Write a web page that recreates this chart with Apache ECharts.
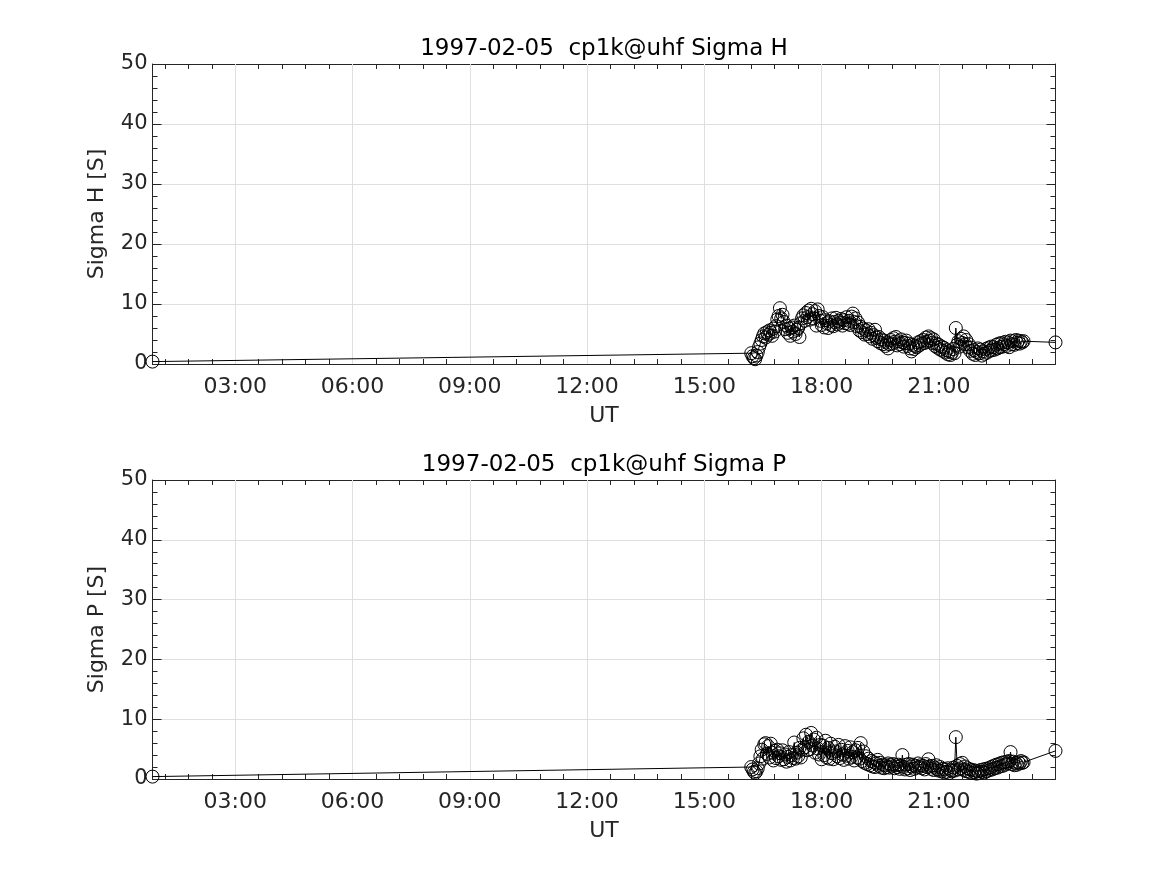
<!DOCTYPE html>
<html>
<head>
<meta charset="utf-8">
<script src="https://cdn.jsdelivr.net/npm/echarts@6/dist/echarts.min.js"></script>
<style>html,body{margin:0;padding:0;background:#fff;}#c{width:1167px;height:875px;}</style>
</head>
<body>
<div id="c"></div>
<script>
// ---- data ----
const titleH = '1997-02-05  cp1k@uhf Sigma H';
const titleP = '1997-02-05  cp1k@uhf Sigma P';
const yNameH = 'Sigma H [S]';
const yNameP = 'Sigma P [S]';
const xName = 'UT';

const times = [
'00:53',
'16:12','16:14','16:16','16:18','16:20','16:22','16:24','16:26','16:28','16:30','16:32','16:34',
'16:36','16:38','16:40','16:42','16:44','16:46','16:48','16:50','16:52','16:54','16:56','16:58',
'17:00','17:02','17:04','17:06','17:08','17:10','17:12','17:14','17:16','17:18','17:20','17:22','17:24','17:26','17:28',
'17:30','17:32','17:34','17:36','17:38','17:40','17:42','17:44','17:46','17:48','17:50','17:52','17:54','17:56','17:58',
'18:00','18:02','18:04','18:06','18:08','18:10','18:12','18:14','18:16','18:18','18:20','18:22','18:24','18:26','18:28',
'18:30','18:32','18:34','18:36','18:38','18:40','18:42','18:44','18:46','18:48','18:50','18:52','18:54','18:56','18:58',
'19:00','19:02','19:04','19:06','19:08','19:10','19:12','19:14','19:16','19:18','19:20','19:22','19:24','19:26','19:28',
'19:30','19:32','19:34','19:36','19:38','19:40','19:42','19:44','19:46','19:48','19:50','19:52','19:54','19:56','19:58',
'20:00','20:02','20:04','20:06','20:08','20:10','20:12','20:14','20:16','20:18','20:20','20:22','20:24','20:26','20:28',
'20:30','20:32','20:34','20:36','20:38','20:40','20:42','20:44','20:46','20:48','20:50','20:52','20:54','20:56','20:58',
'21:00','21:02','21:04','21:06','21:08','21:10','21:12','21:14','21:16','21:18','21:20','21:22','21:24','21:26','21:28',
'21:30','21:32','21:34','21:36','21:38','21:40','21:42','21:44','21:46','21:48','21:50','21:52','21:54','21:56','21:58',
'22:00','22:02','22:04','22:06','22:08','22:10','22:12','22:14','22:16','22:18','22:20','22:22','22:24','22:26','22:28',
'22:30','22:32','22:34','22:36','22:38','22:40','22:42','22:44','22:46','22:48','22:50','22:52','22:54','22:56','22:58',
'23:00','23:02','23:04','23:06','23:08','23:10',
'23:59'
];

const sigmaH = [
0.4,
1.8,1.3,1.0,0.8,1.4,2.0,2.8,3.4,4.0,4.6,5.1,4.4,
5.3,4.9,5.6,5.2,4.7,5.9,5.4,6.3,7.4,8.0,9.3,7.6,
8.2,7.0,5.8,6.4,5.2,5.9,4.7,6.1,5.4,6.4,5.0,5.7,6.0,4.5,6.8,
7.6,8.1,7.2,8.5,7.8,8.9,7.4,9.2,8.3,7.6,8.8,6.4,9.1,8.0,7.2,
6.5,7.8,6.1,7.3,6.8,6.0,7.1,6.5,7.6,6.3,7.0,7.7,6.6,7.2,6.9,
7.5,6.4,7.3,6.8,7.8,6.7,7.2,6.5,7.9,8.4,7.0,7.6,6.3,6.9,5.6,
6.2,5.3,5.9,4.9,5.6,5.0,5.8,4.6,5.2,4.2,4.8,5.7,4.4,3.8,4.5,
3.5,4.1,3.3,3.9,3.0,3.6,2.6,3.3,4.0,3.4,4.3,3.7,4.5,3.1,3.8,
3.3,4.1,3.6,2.9,3.5,3.9,3.0,3.4,2.6,2.1,3.2,2.5,3.0,2.8,3.6,
3.1,3.8,3.4,4.0,3.5,4.4,3.7,4.6,3.9,4.3,3.5,4.1,3.0,3.4,2.7,
3.2,2.4,2.9,2.2,2.7,1.9,2.3,1.6,2.1,1.5,1.9,2.5,1.8,6.0,3.2,
3.8,2.9,4.2,3.5,4.6,3.3,4.0,2.8,3.3,2.2,2.7,1.7,2.3,1.5,2.0,
2.6,1.8,2.4,1.4,2.1,1.7,2.5,1.9,2.7,2.2,2.9,2.3,2.8,2.4,3.2,
2.6,3.4,2.8,3.5,2.9,3.3,3.7,3.0,3.6,2.8,3.9,3.3,3.8,3.2,4.0,
3.5,3.9,3.4,3.8,3.6,3.8,
3.6
];

const sigmaP = [
0.4,
2.0,1.6,1.2,1.0,1.3,1.8,2.6,3.8,4.9,3.4,5.8,6.0,
4.2,5.5,3.6,5.9,4.4,3.1,4.7,3.5,4.9,3.8,4.3,3.2,
4.8,3.3,4.1,2.9,3.7,4.5,3.1,4.0,3.5,6.1,3.4,4.4,3.8,5.2,3.6,
4.9,6.8,5.3,7.4,4.8,6.2,5.0,7.7,5.6,6.6,4.4,6.9,5.1,4.1,5.7,
3.3,5.6,4.0,6.4,3.6,5.2,3.4,5.9,4.3,3.3,5.4,4.6,3.8,5.7,3.5,
4.9,4.1,3.2,5.5,3.9,4.7,3.4,5.3,3.7,4.5,3.1,4.8,3.6,5.2,3.4,
6.0,3.0,4.6,2.7,3.8,2.5,3.4,2.3,3.0,2.1,2.8,2.0,2.6,3.2,2.2,
2.7,1.9,2.4,1.8,2.3,2.0,2.6,1.9,2.4,2.1,2.5,1.8,2.3,2.0,2.4,
1.7,2.2,4.0,2.0,1.6,2.4,1.8,2.5,1.5,2.1,2.4,1.7,2.2,1.9,2.6,
2.0,2.3,1.8,2.2,1.6,2.5,2.0,3.3,2.1,1.7,2.2,1.5,1.9,2.3,1.6,
1.4,2.0,1.3,1.7,1.1,1.6,1.2,1.8,1.0,1.5,1.3,1.9,1.4,7.0,2.2,
1.6,2.5,1.8,2.7,1.5,2.1,1.3,1.8,1.2,1.6,1.0,1.5,1.1,1.4,0.9,
1.3,1.0,1.5,1.2,1.6,1.1,1.7,1.3,1.8,1.5,2.0,1.6,2.2,1.8,2.4,
1.9,2.5,2.1,2.7,2.2,2.8,2.4,2.9,2.6,3.0,4.5,2.5,2.9,2.3,2.7,
2.4,2.8,2.6,3.0,2.7,2.8,
4.7
];

const xMajorTicks = [3, 6, 9, 12, 15, 18, 21];
const xMinorTicks = [1.2,1.8,2.4,3.6,4.2,4.8,5.4,6.6,7.2,7.8,8.4,9.6,10.2,10.8,11.4,
  12.6,13.2,13.8,14.4,15.6,16.2,16.8,17.4,18.6,19.2,19.8,20.4,21.6,22.2,22.8,23.4];
const yMin = 0, yMax = 50, yStep = 10;

// ---- build ----
const FONT = 'DejaVu Sans';
const AX = '#262626';
const GRIDC = '#dfdfdf';
const hours = times.map(t => { const p = t.split(':'); return +p[0] + (+p[1]) / 60; });
const tMin = hours[0], tMax = hours[hours.length - 1];
const fmt = v => String(Math.round(v)).padStart(2, '0') + ':00';

const grids = [
  { left: 152.5, right: 111.5, top: 64, height: 300 },
  { left: 152.5, right: 111.5, top: 480, height: 299 }
];

function xAxesFor(g) {
  const base = { gridIndex: g, type: 'value', min: tMin, max: tMax, splitLine: { show: false } };
  return [
    Object.assign({}, base, {
      position: 'bottom',
      axisLine: { show: true, onZero: false, lineStyle: { color: AX, width: 1 } },
      axisTick: { show: true, inside: true, length: 9, customValues: xMajorTicks, lineStyle: { color: AX } },
      axisLabel: { show: true, customValues: xMajorTicks, formatter: fmt, fontSize: 22, color: AX, margin: 12, fontFamily: FONT },
      name: xName, nameLocation: 'middle', nameGap: 41,
      nameTextStyle: { fontSize: 22, color: AX, fontFamily: FONT }
    }),
    Object.assign({}, base, {
      position: 'bottom',
      axisLine: { show: false, onZero: false },
      axisTick: { show: true, inside: true, length: 5, customValues: xMinorTicks, lineStyle: { color: AX } },
      axisLabel: { show: false }
    }),
    Object.assign({}, base, {
      position: 'top',
      axisLine: { show: true, onZero: false, lineStyle: { color: AX, width: 1 } },
      axisTick: { show: true, inside: true, length: 9, customValues: xMajorTicks, lineStyle: { color: AX } },
      axisLabel: { show: false }
    }),
    Object.assign({}, base, {
      position: 'top',
      axisLine: { show: false, onZero: false },
      axisTick: { show: true, inside: true, length: 5, customValues: xMinorTicks, lineStyle: { color: AX } },
      axisLabel: { show: false }
    })
  ];
}

function yAxesFor(g, name) {
  const base = { gridIndex: g, type: 'value', min: yMin, max: yMax, interval: yStep };
  return [
    Object.assign({}, base, {
      position: 'left',
      axisLine: { show: true, onZero: false, lineStyle: { color: AX, width: 1 } },
      axisTick: { show: true, inside: true, length: 9, lineStyle: { color: AX } },
      minorTick: { show: true, splitNumber: 5, length: 5, lineStyle: { color: AX } },
      axisLabel: { show: true, fontSize: 21, color: AX, margin: 5, fontFamily: FONT },
      splitLine: { show: true, lineStyle: { color: GRIDC, width: 1 } },
      name: name, nameLocation: 'middle', nameGap: 44, nameRotate: 90,
      nameTextStyle: { fontSize: 22, color: AX, fontFamily: FONT }
    }),
    Object.assign({}, base, {
      position: 'right',
      axisLine: { show: true, onZero: false, lineStyle: { color: AX, width: 1 } },
      axisTick: { show: true, inside: true, length: 9, lineStyle: { color: AX } },
      minorTick: { show: true, splitNumber: 5, length: 5, lineStyle: { color: AX } },
      axisLabel: { show: false },
      splitLine: { show: false }
    })
  ];
}

const xAxis = xAxesFor(0).concat(xAxesFor(1));
const yAxis = yAxesFor(0, yNameH).concat(yAxesFor(1, yNameP));

function dataSeries(vals, xi, yi) {
  return {
    type: 'line', xAxisIndex: xi, yAxisIndex: yi,
    data: hours.map((h, i) => [h, vals[i]]),
    symbol: 'circle', symbolSize: 13, showAllSymbol: true,
    lineStyle: { color: '#000', width: 1 },
    itemStyle: { color: 'rgba(0,0,0,0)', borderColor: '#000', borderWidth: 1 },
    emphasis: { disabled: true }, z: 3, clip: false
  };
}
function gridLineSeries(xi, yi) {
  return {
    type: 'line', xAxisIndex: xi, yAxisIndex: yi, data: [], z: 1, silent: true,
    markLine: {
      z: 1, zlevel: 0,
      silent: true, symbol: ['none', 'none'], label: { show: false }, animation: false,
      lineStyle: { color: GRIDC, type: 'solid', width: 1 },
      emphasis: { disabled: true },
      data: xMajorTicks.map(v => ({ xAxis: v }))
    }
  };
}

const option = {
  animation: false,
  backgroundColor: '#fff',
  title: [
    { text: titleH, left: 599, top: 33, textAlign: 'center',
      textStyle: { fontSize: 23, fontWeight: 'normal', color: '#000', fontFamily: FONT } },
    { text: titleP, left: 599, top: 449, textAlign: 'center',
      textStyle: { fontSize: 23, fontWeight: 'normal', color: '#000', fontFamily: FONT } }
  ],
  grid: grids,
  xAxis: xAxis,
  yAxis: yAxis,
  series: [
    gridLineSeries(0, 0),
    dataSeries(sigmaH, 0, 0),
    gridLineSeries(4, 2),
    dataSeries(sigmaP, 4, 2)
  ]
};

const chart = echarts.init(document.getElementById('c'), null, { renderer: 'canvas' });
chart.setOption(option);
</script>
</body>
</html>
